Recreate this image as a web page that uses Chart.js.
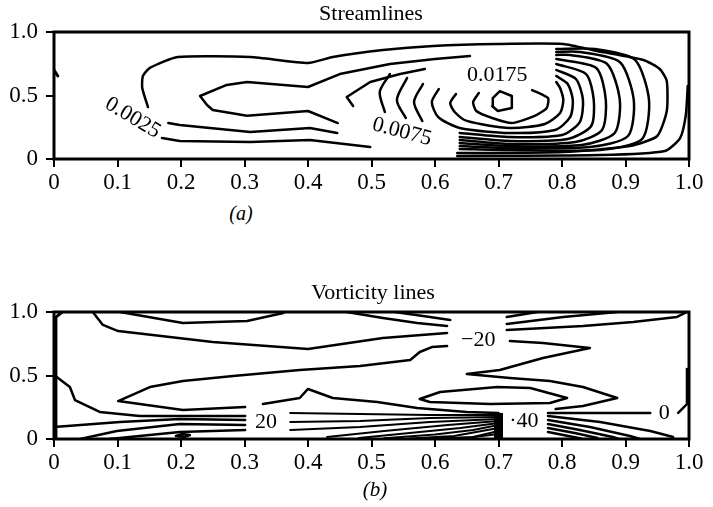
<!DOCTYPE html>
<html><head><meta charset="utf-8">
<script src="https://cdn.jsdelivr.net/npm/chart.js@4.4.0/dist/chart.umd.min.js"></script>
<style>
html,body{margin:0;padding:0;background:#fff;}
#wrap{position:relative;width:713px;height:507px;overflow:hidden;font-family:"Liberation Serif",serif;color:#000;}
canvas{position:absolute;left:0;}
.t{position:absolute;font-size:22px;line-height:22px;white-space:nowrap;transform:translateX(-50%);}
</style></head><body>
<div id="wrap">
<canvas id="c1" width="713" height="200" style="top:0"></canvas>
<canvas id="c2" width="713" height="200" style="top:280px"></canvas>
<div class="t" style="left:371px;top:2px">Streamlines</div>
<div class="t" style="left:241px;top:202px;font-style:italic;font-size:20px">(a)</div>
<div class="t" style="left:373px;top:281px">Vorticity lines</div>
<div class="t" style="left:375px;top:478px;font-style:italic;font-size:21px">(b)</div>
</div>
<script>
// ---- axis ticks ----
const xTickLabels = ['0','0.1','0.2','0.3','0.4','0.5','0.6','0.7','0.8','0.9','1.0'];
const yTickLabels = ['0','0.5','1.0'];

// ---- Streamlines (x, y) ----
const streamOuter = [[0.148,0.409],[0.139,0.559],[0.140,0.654],[0.151,0.717],[0.195,0.803],[0.309,0.803],[0.400,0.756],[0.439,0.803],[0.518,0.858],[0.597,0.890],[0.698,0.906],[0.802,0.906],[0.855,0.850],[0.928,0.780],[0.954,0.709],[0.965,0.614],[0.965,0.378],[0.950,0.181],[0.907,0.102],[0.802,0.055],[0.635,0.047]];
const streamOuterLow = [[0.498,0.094],[0.403,0.150],[0.309,0.134],[0.198,0.142],[0.170,0.165]];
const streamLow2 = [[0.180,0.283],[0.198,0.268],[0.309,0.213],[0.403,0.244],[0.446,0.205]];
const streamTip = [[0.447,0.283],[0.400,0.378],[0.304,0.340],[0.250,0.386],[0.241,0.425],[0.230,0.496],[0.272,0.583],[0.304,0.606],[0.400,0.567],[0.450,0.669],[0.529,0.748],[0.600,0.787],[0.655,0.811]];
const streamHook = [[0.471,0.417],[0.461,0.488],[0.498,0.606],[0.545,0.669],[0.584,0.709]];
const streamArc6 = [[0.529,0.669],[0.513,0.528],[0.521,0.370]];
const streamArc5 = [[0.556,0.638],[0.540,0.465],[0.554,0.323]];
const streamArc4 = [[0.581,0.591],[0.567,0.449],[0.580,0.299]];
const streamRing3 = [[0.606,0.551],[0.595,0.449],[0.605,0.331],[0.639,0.244],[0.718,0.205],[0.789,0.228],[0.813,0.331],[0.817,0.465],[0.809,0.591],[0.791,0.654]];
const streamRing2 = [[0.633,0.512],[0.624,0.441],[0.631,0.370],[0.650,0.300],[0.718,0.244],[0.773,0.276],[0.797,0.362],[0.802,0.465],[0.797,0.559],[0.791,0.606]];
const streamRing1 = [[0.669,0.520],[0.660,0.449],[0.665,0.378],[0.690,0.323],[0.721,0.283],[0.757,0.339],[0.776,0.402],[0.778,0.480],[0.753,0.543]];
const streamCore = [[0.691,0.480],[0.702,0.535],[0.721,0.496],[0.721,0.402],[0.699,0.378],[0.690,0.417],[0.691,0.480]];
const streamU4 = [[0.639,0.205],[0.718,0.173],[0.800,0.189],[0.828,0.291],[0.833,0.465],[0.822,0.630],[0.791,0.701]];
const streamU5 = [[0.639,0.173],[0.718,0.142],[0.809,0.157],[0.846,0.260],[0.850,0.465],[0.838,0.669],[0.791,0.748]];
const streamU6 = [[0.639,0.150],[0.718,0.118],[0.821,0.134],[0.863,0.228],[0.869,0.465],[0.854,0.717],[0.791,0.787]];
const streamU7 = [[0.639,0.126],[0.718,0.102],[0.831,0.110],[0.883,0.205],[0.891,0.465],[0.871,0.748],[0.813,0.819],[0.791,0.819]];
const streamU8 = [[0.639,0.102],[0.718,0.087],[0.844,0.094],[0.904,0.181],[0.913,0.465],[0.891,0.764],[0.828,0.843],[0.791,0.843]];
const streamU9 = [[0.639,0.079],[0.718,0.071],[0.860,0.071],[0.926,0.157],[0.937,0.465],[0.915,0.780],[0.852,0.866],[0.791,0.866]];
const streamWall = [[0.998,0.575],[0.995,0.346],[0.986,0.165],[0.962,0.063],[0.860,0.031],[0.635,0.024]];
const streamStub = [[0.0,0.701],[0.006,0.654]];
const streamLabels = [
  {text:'0.0025', x:0.124, y:0.323, angle:31},
  {text:'0.0075', x:0.548, y:0.213, angle:15},
  {text:'0.0175', x:0.698, y:0.661, angle:0}
];

// ---- Vorticity lines (x, y) ----
const vortUpper = [[0.061,1.0],[0.077,0.898],[0.101,0.850],[0.250,0.764],[0.400,0.709],[0.518,0.795],[0.619,0.835]];
const vortDip1 = [[0.104,1.0],[0.203,0.913],[0.304,0.929],[0.361,0.992]];
const vortDip2 = [[0.461,1.0],[0.518,0.953],[0.572,0.913],[0.619,0.890]];
const vortDip3 = [[0.537,1.0],[0.592,0.961],[0.624,0.937]];
const vortTopR1 = [[0.713,0.961],[0.761,1.0]];
const vortTopR2 = [[0.713,0.906],[0.802,0.961],[0.887,1.0]];
const vortTopR3 = [[0.713,0.858],[0.833,0.890],[0.912,0.921],[0.981,0.961],[0.997,1.0]];
const vortZig = [[0.718,0.772],[0.770,0.756],[0.844,0.717],[0.770,0.638],[0.702,0.543],[0.650,0.512],[0.718,0.480],[0.781,0.457],[0.833,0.409],[0.887,0.323],[0.833,0.260],[0.790,0.236]];
const vortMid = [[0.301,0.252],[0.203,0.228],[0.101,0.299],[0.151,0.409],[0.203,0.457],[0.282,0.496],[0.387,0.543],[0.482,0.575],[0.561,0.622],[0.576,0.685],[0.595,0.724],[0.619,0.732]];
const vortBump = [[0.329,0.276],[0.387,0.323],[0.400,0.394],[0.439,0.323],[0.509,0.291],[0.572,0.244],[0.650,0.213],[0.700,0.205]];
const vortLoop = [[0.576,0.315],[0.608,0.370],[0.698,0.409],[0.750,0.402],[0.808,0.323],[0.781,0.283],[0.687,0.276],[0.592,0.291],[0.576,0.315]];
const vortZero = [[0.778,0.205],[0.860,0.205],[0.939,0.205]];
const vortZeroEnd = [[0.983,0.205],[1.0,0.291]];
const vortRightWall = [[0.998,0.28],[0.998,0.56]];
const vortLeftCorner = [[0.003,0.0],[0.003,0.96],[0.012,0.995]];
const vortFan1 = [[0.778,0.181],[0.860,0.134],[0.939,0.063],[0.975,0.016]];
const vortFan2 = [[0.778,0.150],[0.844,0.094],[0.907,0.024],[0.923,0.0]];
const vortFan3 = [[0.778,0.118],[0.828,0.071],[0.880,0.016],[0.890,0.0]];
const vortFan4 = [[0.778,0.087],[0.820,0.047],[0.856,0.008]];
const vortFan5 = [[0.778,0.055],[0.810,0.024],[0.830,0.004]];
const vortLeft1 = [[0.0,0.504],[0.025,0.409],[0.033,0.307],[0.072,0.213],[0.135,0.181],[0.301,0.181]];
const vortLeft2 = [[0.0,0.094],[0.104,0.134],[0.198,0.157],[0.301,0.150]];
const vortLeft3 = [[0.041,0.0],[0.099,0.063],[0.198,0.118],[0.301,0.110]];
const vortLeft4 = [[0.087,0.0],[0.198,0.055],[0.301,0.071]];
const vortOval = [[0.192,0.024],[0.202,0.039],[0.214,0.031],[0.205,0.016],[0.192,0.024]];
const vortDense1 = [[0.372,0.205],[0.482,0.197],[0.592,0.189],[0.700,0.189]];
const vortDense2 = [[0.372,0.134],[0.482,0.142],[0.592,0.165],[0.700,0.173]];
const vortDense3 = [[0.372,0.071],[0.482,0.094],[0.592,0.134],[0.700,0.157]];
const vortDense4 = [[0.430,0.016],[0.520,0.063],[0.620,0.110],[0.700,0.142]];
const vortDense5 = [[0.480,0.008],[0.560,0.047],[0.640,0.087],[0.700,0.126]];
const vortDense6 = [[0.520,0.006],[0.600,0.035],[0.660,0.071],[0.700,0.110]];
const vortDense7 = [[0.560,0.004],[0.630,0.024],[0.700,0.087]];
const vortDense8 = [[0.600,0.004],[0.660,0.016],[0.700,0.063]];
const vortDense9 = [[0.640,0.003],[0.700,0.039]];
const vortWall40 = [[0.700,0.0],[0.700,0.205]];
const vortLabels = [
  {text:'\u221220', x:0.668, y:0.776, angle:0},
  {text:'20', x:0.334, y:0.134, angle:0},
  {text:'\u00b740', x:0.740, y:0.138, angle:0},
  {text:'0', x:0.961, y:0.201, angle:0}
];

const toPts = a => a.map(p => ({x:p[0], y:p[1]}));
function ds(arr, w, t, cap){
  return {data: toPts(arr), showLine:true, borderColor:'#000', backgroundColor:'#000',
          borderWidth: w || 2.5, pointRadius:0, fill:false, tension: t || 0,
          borderJoinStyle:'round', borderCapStyle: cap || 'round'};
}

const framePlugin = {
  id:'frame',
  afterDatasetsDraw(chart){
    const a = chart.chartArea, c = chart.ctx;
    c.save(); c.strokeStyle='#000'; c.lineWidth=3;
    c.strokeRect(a.left, a.top, a.right-a.left, a.bottom-a.top);
    c.restore();
  }
};
const labelPlugin = {
  id:'contourLabels',
  afterDatasetsDraw(chart, args, opts){
    const c = chart.ctx, xs = chart.scales.x, ys = chart.scales.y;
    c.save();
    c.fillStyle='#000';
    c.font = '22px "Liberation Serif", serif';
    c.textAlign='center'; c.textBaseline='middle';
    (opts.items||[]).forEach(l => {
      c.save();
      c.translate(xs.getPixelForValue(l.x), ys.getPixelForValue(l.y));
      c.rotate(l.angle*Math.PI/180);
      c.fillText(l.text, 0, 0);
      c.restore();
    });
    c.restore();
  }
};

function makeChart(id, lines, labels){
  return new Chart(document.getElementById(id), {
    type:'scatter',
    data:{datasets: lines},
    options:{
      responsive:false, animation:false, devicePixelRatio:1,
      events:[],
      layout:{padding:{left:0, right:24, top:32, bottom:0}},
      plugins:{legend:{display:false}, tooltip:{enabled:false}, title:{display:false},
               contourLabels:{items:labels}},
      scales:{
        x:{type:'linear', min:0, max:1,
           border:{display:false},
           grid:{display:true, drawOnChartArea:false, drawTicks:true, tickLength:8, color:'#000', lineWidth:2},
           ticks:{stepSize:0.1, padding:2, color:'#000', maxRotation:0, autoSkip:false,
                  font:{family:'"Liberation Serif", serif', size:23},
                  callback:(v,i)=>xTickLabels[i]},
           afterFit:s=>{s.height=41;}
        },
        y:{type:'linear', min:0, max:1,
           border:{display:false},
           grid:{display:true, drawOnChartArea:false, drawTicks:true, tickLength:8, color:'#000', lineWidth:2},
           ticks:{stepSize:0.5, padding:8, color:'#000',
                  font:{family:'"Liberation Serif", serif', size:23},
                  callback:(v,i)=>yTickLabels[i]},
           afterFit:s=>{s.width=54;}
        }
      }
    },
    plugins:[framePlugin, labelPlugin]
  });
}

makeChart('c1', [
  ds(streamOuter,2.5,0.2), ds(streamOuterLow), ds(streamLow2), ds(streamTip), ds(streamHook),
  ds(streamArc6,2.5,0.3), ds(streamArc5,2.5,0.3), ds(streamArc4,2.5,0.3),
  ds(streamRing3,2.5,0.25), ds(streamRing2,2.5,0.25), ds(streamRing1,2.5,0.2),
  ds(streamCore), ds(streamU4,2.5,0.25), ds(streamU5,2.5,0.25), ds(streamU6,2.5,0.25),
  ds(streamU7,2.5,0.25), ds(streamU8,2.5,0.25), ds(streamU9,2.5,0.25),
  ds(streamWall,2.5,0.2), ds(streamStub, 3)
], streamLabels);

makeChart('c2', [
  ds(vortUpper), ds(vortDip1), ds(vortDip2), ds(vortDip3), ds(vortTopR1), ds(vortTopR2), ds(vortTopR3),
  ds(vortZig), ds(vortMid), ds(vortBump), ds(vortLoop), ds(vortZero), ds(vortZeroEnd),
  ds(vortRightWall, 4, 0, 'butt'), ds(vortLeftCorner, 3),
  ds(vortFan1), ds(vortFan2), ds(vortFan3), ds(vortFan4), ds(vortFan5),
  ds(vortLeft1), ds(vortLeft2), ds(vortLeft3), ds(vortLeft4), ds(vortOval),
  ds(vortDense1,2), ds(vortDense2,2), ds(vortDense3,2), ds(vortDense4,2), ds(vortDense5,2),
  ds(vortDense6,2), ds(vortDense7,2), ds(vortDense8,2), ds(vortDense9,2),
  ds(vortWall40, 9, 0, 'butt')
], vortLabels);
</script>
</body></html>
